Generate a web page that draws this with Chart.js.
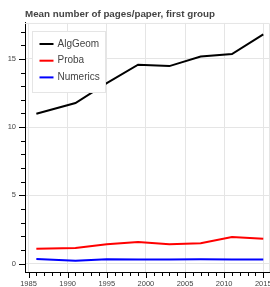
<!DOCTYPE html>
<html>
<head>
<meta charset="utf-8">
<script src="https://cdn.jsdelivr.net/npm/chart.js@4"></script>
<style>
  html, body { margin: 0; padding: 0; background: #fff; }
  #wrap { width: 270px; height: 287px; }
</style>
</head>
<body>
<div id="wrap"><canvas id="chart"></canvas></div>
<script>
const years = [1986, 1991, 1995, 1999, 2003, 2007, 2011, 2015];
const algGeom = [10.98, 11.77, 13.23, 14.57, 14.47, 15.17, 15.35, 16.8];
const proba = [1.09, 1.15, 1.42, 1.58, 1.42, 1.49, 1.95, 1.82];
const numerics = [0.34, 0.22, 0.32, 0.31, 0.31, 0.32, 0.31, 0.31];

const xMajorTicks = [1985, 1990, 1995, 2000, 2005, 2010, 2015];
const yMajorTicks = [0, 5, 10, 15];

const FONT = "'Liberation Sans', Arial, Helvetica, sans-serif";
const GRID = '#e5e5e5';

// minor ticks every unit, major every 5
const minorRange = (a, b) => {
    const out = [];
    for (let v = a; v <= b; v++) out.push(v);
    return out;
};
const xMinorTicks = minorRange(1985, 2015);
const yMinorTicks = minorRange(0, 17);

const toPoints = (vals) => vals.map((v, i) => ({x: years[i], y: v}));

// bokeh-like ticks: major out 6px, minor out 4px
const axisTicks = {
    id: 'axisTicks',
    afterDraw(chart) {
        const {ctx, scales: {x, y}} = chart;
        ctx.save();
        ctx.strokeStyle = '#000';
        ctx.lineWidth = 1;
        ctx.beginPath();
        xMinorTicks.forEach(v => {
            const px = Math.round(x.getPixelForValue(v)) + 0.5;
            const len = xMajorTicks.includes(v) ? 6 : 4;
            ctx.moveTo(px, x.top);
            ctx.lineTo(px, x.top + len);
        });
        yMinorTicks.forEach(v => {
            const py = Math.round(y.getPixelForValue(v)) + 0.5;
            const len = yMajorTicks.includes(v) ? 6 : 4;
            ctx.moveTo(y.right, py);
            ctx.lineTo(y.right - len, py);
        });
        ctx.stroke();
        ctx.restore();
    }
};

// light outline on the top and right of the plot
const plotOutline = {
    id: 'plotOutline',
    beforeDatasetsDraw(chart) {
        const {ctx, chartArea: a} = chart;
        ctx.save();
        ctx.strokeStyle = GRID;
        ctx.lineWidth = 1;
        ctx.beginPath();
        ctx.moveTo(a.left, a.top + 0.5);
        ctx.lineTo(a.right - 0.5, a.top + 0.5);
        ctx.lineTo(a.right - 0.5, a.bottom);
        ctx.stroke();
        ctx.restore();
    }
};

// legend box inside the plot, top-left
const boxLegend = {
    id: 'boxLegend',
    afterDraw(chart) {
        const {ctx, chartArea: a} = chart;
        const left = Math.round(a.left + 7) + 0.5;
        const top = Math.round(a.top + 8) + 0.5;
        ctx.save();
        ctx.fillStyle = '#fff';
        ctx.strokeStyle = GRID;
        ctx.lineWidth = 1;
        ctx.fillRect(left, top, 73, 61);
        ctx.strokeRect(left, top, 73, 61);
        ctx.font = '10px ' + FONT;
        ctx.textBaseline = 'middle';
        ctx.textAlign = 'left';
        chart.data.datasets.forEach((ds, i) => {
            const yy = top + 12.5 + i * 16.7;
            ctx.strokeStyle = ds.borderColor;
            ctx.lineWidth = 2;
            ctx.beginPath();
            ctx.moveTo(left + 7, yy);
            ctx.lineTo(left + 21, yy);
            ctx.stroke();
            ctx.fillStyle = '#444';
            ctx.fillText(ds.label, left + 25, yy);
        });
        ctx.restore();
    }
};

const lineDs = (label, vals, color) => ({
    label,
    data: toPoints(vals),
    borderColor: color,
    backgroundColor: color,
    borderWidth: 2,
    pointRadius: 0,
    tension: 0,
    fill: false,
});

// no extra room for overflowing tick labels, plot runs to the canvas edge
const noPad = (s) => {
    s.paddingLeft = 0;
    s.paddingRight = 0;
    s.paddingTop = 0;
    s.paddingBottom = 0;
};

new Chart(document.getElementById('chart'), {
    type: 'line',
    data: {
        datasets: [
            lineDs('AlgGeom', algGeom, '#000000'),
            lineDs('Proba', proba, '#ff0000'),
            lineDs('Numerics', numerics, '#0000ff'),
        ],
    },
    options: {
        responsive: true,
        maintainAspectRatio: false,
        animation: false,
        devicePixelRatio: 1,
        layout: { padding: 0 },
        scales: {
            x: {
                type: 'linear',
                min: 1984.55,
                max: 2015.86,
                afterBuildTicks: (s) => { s.ticks = xMajorTicks.map(v => ({value: v})); },
                afterFit: (s) => { s.height = 15; noPad(s); },
                grid: { color: GRID, drawTicks: false },
                border: { display: true, color: '#000', width: 1 },
                ticks: {
                    autoSkip: false,
                    maxRotation: 0,
                    padding: 7,
                    color: '#444',
                    font: { family: FONT, size: 7.5 },
                    callback: (v) => String(v),
                },
            },
            y: {
                min: -0.61,
                max: 17.63,
                afterBuildTicks: (s) => { s.ticks = yMajorTicks.map(v => ({value: v})); },
                afterFit: (s) => { s.width = 25; noPad(s); },
                grid: { color: GRID, drawTicks: false },
                border: { display: true, color: '#000', width: 1 },
                ticks: {
                    autoSkip: false,
                    padding: 9,
                    color: '#444',
                    font: { family: FONT, size: 7.5 },
                    callback: (v) => String(v),
                },
            },
        },
        plugins: {
            legend: { display: false },
            tooltip: { enabled: false },
            title: {
                display: true,
                text: 'Mean number of pages/paper, first group',
                align: 'start',
                fullSize: false,
                color: '#444',
                font: { family: FONT, size: 9.8, weight: 'bold' },
                padding: { top: 8, bottom: 3.2 },
            },
        },
    },
    plugins: [plotOutline, axisTicks, boxLegend],
});
</script>
</body>
</html>
